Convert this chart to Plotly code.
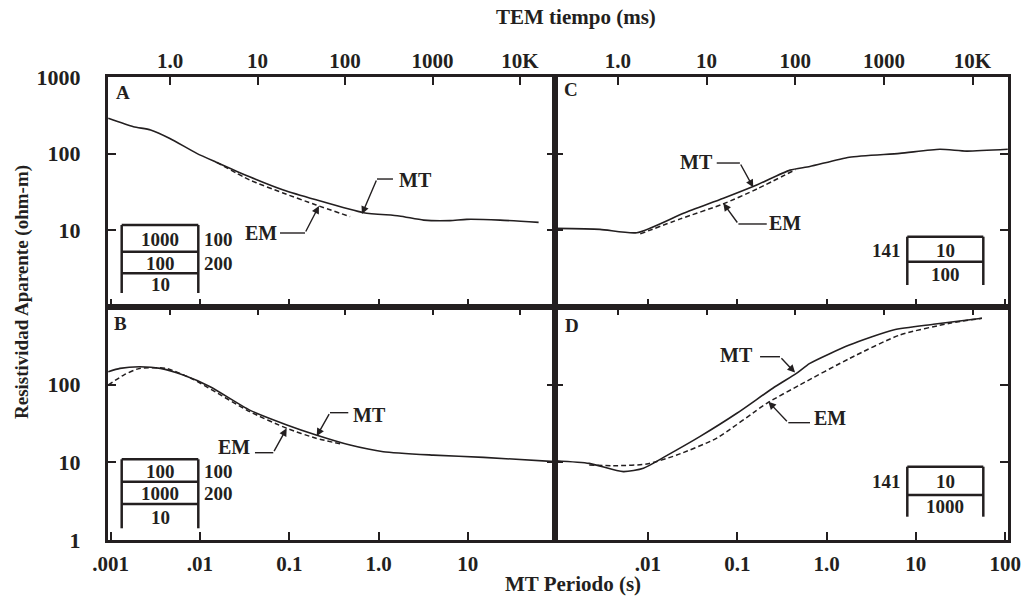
import math
import plotly.graph_objects as go

INK = "#231f20"
FONT = "Liberation Serif"
W, H = 1024, 602

# ---------------- data (period s / apparent resistivity ohm-m) ----------------
A_MT_T = [0.00094, 0.0018, 0.0028, 0.0046, 0.0092, 0.015, 0.036, 0.086, 0.2, 0.68, 1.7, 3.2, 6.3, 9.7, 23, 62]
A_MT_R = [290, 225, 204, 158, 101, 78, 50, 33.6, 25, 17, 15.4, 13.6, 13.4, 13.9, 13.6, 12.7]
A_EM_T = [0.0154, 0.036, 0.085, 0.2, 0.48]
A_EM_R = [77, 45.4, 30.7, 21.4, 15.1]

B_MT_T = [0.00094, 0.00127, 0.0021, 0.0036, 0.0065, 0.013, 0.036, 0.094, 0.2, 0.48, 1.13, 4.1, 15, 95]
B_MT_R = [147, 162, 170, 162, 133, 94, 47, 30.3, 22.5, 16.7, 13.7, 12.4, 11.6, 10.2]
B_EM_T = [0.00094, 0.0014, 0.0021, 0.0042, 0.0084, 0.036, 0.094, 0.2, 0.4]
B_EM_R = [99, 133, 162, 162, 117, 45, 27.4, 20.4, 17]

C_MT_T = [0.00092, 0.0029, 0.0075, 0.025, 0.07, 0.165, 0.39, 0.65, 1.8, 6.6, 18.6, 37, 107]
C_MT_R = [10.6, 10.3, 9.3, 16.7, 26.2, 39, 61, 68, 90, 101, 114, 108, 114]
C_EM_T = [0.0082, 0.023, 0.069, 0.166, 0.45]
C_EM_R = [9.0, 14.1, 22, 34.6, 62]

D_MT_T = [0.00092, 0.0022, 0.0053, 0.0089, 0.016, 0.038, 0.099, 0.25, 0.46, 0.65, 1.8, 5.6, 15.7, 55]
D_MT_R = [10.5, 9.7, 7.6, 8.4, 12.1, 21.4, 42.8, 90, 140, 188, 324, 506, 599, 716]
D_EM_T = [0.0022, 0.0045, 0.0097, 0.021, 0.059, 0.214, 0.5, 1.83, 6.6, 24, 55]
D_EM_R = [9.25, 9.05, 9.5, 12.4, 20.5, 57.5, 99, 219, 436, 617, 716]

# tick values / labels
MT_TICKS_L = [0.001, 0.01, 0.1, 1, 10]
MT_LABELS_L = [".001", ".01", "0.1", "1.0", "10"]
MT_TICKS_R = [0.01, 0.1, 1, 10, 100]
MT_LABELS_R = [".01", "0.1", "1.0", "10", "100"]
TEM_TICKS = [1, 10, 100, 1000, 10000]
TEM_LABELS = ["1.0", "10", "100", "1000", "10K"]
RHO_TICKS_TOP = [10, 100, 1000]
RHO_TICKS_BOT = [1, 10, 100]

# layered-earth models (resistivities, thicknesses)
A_LAYERS_RHO = [1000, 100, 10]; A_LAYERS_H = [100, 200]
B_LAYERS_RHO = [100, 1000, 10]; B_LAYERS_H = [100, 200]
C_LAYERS_RHO = [10, 100]; C_LAYERS_H = [141]
D_LAYERS_RHO = [10, 1000]; D_LAYERS_H = [141]

# ---------------- layout geometry ----------------
def fx(px):
    return px / W

def fy(py):
    return 1 - py / H

X_L = [fx(108), fx(555)]
X_R = [fx(555), fx(1008)]
Y_T = [fy(307), fy(77)]
Y_B = [fy(540), fy(307)]
MT_RANGE_L = [-3.03, 1.976]
MT_RANGE_R = [-3.041, 2.032]
TEM_RANGE = [-0.71, 4.40]

fig = go.Figure()

panels = {
    "A": ("x", "y", A_MT_T, A_MT_R, A_EM_T, A_EM_R),
    "B": ("x2", "y2", B_MT_T, B_MT_R, B_EM_T, B_EM_R),
    "C": ("x3", "y3", C_MT_T, C_MT_R, C_EM_T, C_EM_R),
    "D": ("x4", "y4", D_MT_T, D_MT_R, D_EM_T, D_EM_R),
}

for key, (xa, ya, mt_t, mt_r, em_t, em_r) in panels.items():
    fig.add_trace(go.Scatter(x=mt_t, y=mt_r, xaxis=xa, yaxis=ya, mode="lines",
                             line=dict(color=INK, width=1.6, shape="spline", smoothing=0.6),
                             hoverinfo="skip", showlegend=False))
    fig.add_trace(go.Scatter(x=em_t, y=em_r, xaxis=xa, yaxis=ya, mode="lines",
                             line=dict(color=INK, width=1.5, dash="5px,3px", shape="spline", smoothing=0.6),
                             hoverinfo="skip", showlegend=False))

# dummy traces so the TEM overlay axes are drawn
for xa, ya in [("x5", "y"), ("x6", "y2"), ("x7", "y3"), ("x8", "y4")]:
    fig.add_trace(go.Scatter(x=[10], y=[10], xaxis=xa, yaxis=ya, mode="markers",
                             marker=dict(opacity=0), hoverinfo="skip", showlegend=False))

tickfont = dict(family=FONT, size=21, color=INK, weight="bold")
base_x = dict(type="log", ticks="inside", ticklen=8, tickwidth=1.5, tickcolor=INK,
              showline=True, linewidth=3, linecolor=INK, mirror=True, automargin=False,
              showgrid=False, zeroline=False, fixedrange=True, tickfont=tickfont,
              ticklabelstandoff=3)
base_y = dict(type="log", range=[0, 3], ticks="inside", ticklen=8, tickwidth=1.5, tickcolor=INK,
              showline=True, linewidth=3, linecolor=INK, mirror="ticks", automargin=False,
              showgrid=False, zeroline=False, fixedrange=True,
              tickfont=dict(tickfont, size=22), ticklabelstandoff=20)
tem_x = dict(type="log", side="top", range=TEM_RANGE, tickvals=TEM_TICKS, ticktext=TEM_LABELS,
             ticks="inside", ticklen=8, tickwidth=1.5, tickcolor=INK, showline=False,
             automargin=False, showgrid=False, zeroline=False, fixedrange=True, tickfont=tickfont,
             ticklabelstandoff=4)

fig.update_layout(
    width=W, height=H, margin=dict(l=0, r=0, t=0, b=0, autoexpand=False),
    paper_bgcolor="white", plot_bgcolor="white",
    xaxis=dict(base_x, domain=X_L, anchor="y", range=MT_RANGE_L, tickvals=MT_TICKS_L,
               ticktext=MT_LABELS_L, showticklabels=False),
    xaxis2=dict(base_x, domain=X_L, anchor="y2", range=MT_RANGE_L, tickvals=MT_TICKS_L,
                ticktext=MT_LABELS_L, showticklabels=True),
    xaxis3=dict(base_x, domain=X_R, anchor="y3", range=MT_RANGE_R, tickvals=MT_TICKS_R,
                ticktext=MT_LABELS_R, showticklabels=False),
    xaxis4=dict(base_x, domain=X_R, anchor="y4", range=MT_RANGE_R, tickvals=MT_TICKS_R,
                ticktext=MT_LABELS_R, showticklabels=True),
    xaxis5=dict(tem_x, overlaying="x", anchor="y", showticklabels=True),
    xaxis6=dict(tem_x, overlaying="x2", anchor="y2", showticklabels=False),
    xaxis7=dict(tem_x, overlaying="x3", anchor="y3", showticklabels=True),
    xaxis8=dict(tem_x, overlaying="x4", anchor="y4", showticklabels=False),
    yaxis=dict(base_y, domain=Y_T, anchor="x", tickvals=RHO_TICKS_TOP,
               ticktext=[str(v) for v in RHO_TICKS_TOP], showticklabels=True),
    yaxis2=dict(base_y, domain=Y_B, anchor="x2", tickvals=RHO_TICKS_BOT,
                ticktext=[str(v) for v in RHO_TICKS_BOT], showticklabels=True),
    yaxis3=dict(base_y, domain=Y_T, anchor="x3", tickvals=RHO_TICKS_TOP, showticklabels=False),
    yaxis4=dict(base_y, domain=Y_B, anchor="x4", tickvals=RHO_TICKS_BOT, showticklabels=False),
)

lab_font = dict(family=FONT, size=20, color=INK, weight="bold")

# ---------------- MT / EM callouts (positions in data units) ----------------
callouts = [
    # axes, label, text(T,R), leader start(T,R), elbow(T,R), tip(T,R)
    ("x", "y", "MT", (2.62, 45.4), (1.45, 46.7), (0.96, 46.7), (0.652, 16.3)),
    ("x", "y", "EM", (0.0482, 9.23), (0.0787, 9.23), (0.15, 9.23), (0.215, 20.8)),
    ("x2", "y2", "MT", (0.80, 40.7), (0.458, 43.6), (0.286, 43.6), (0.203, 21.8)),
    ("x2", "y2", "EM", (0.024, 15.8), (0.0413, 13.3), (0.0662, 13.3), (0.0935, 27.4)),
    ("x3", "y3", "MT", (0.0354, 77.9), (0.0589, 75.5), (0.107, 75.5), (0.151, 36.4)),
    ("x3", "y3", "EM", (0.343, 12.5), (0.214, 12.1), (0.103, 12.1), (0.0698, 22.5)),
    ("x4", "y4", "MT", (0.0993, 241), (0.18, 229), (0.301, 229), (0.444, 143)),
    ("x4", "y4", "EM", (1.09, 37.2), (0.653, 32.4), (0.373, 32.4), (0.223, 60.4)),
]
L = math.log10
for xa, ya, text, tp, st, el, tip in callouts:
    fig.add_annotation(x=L(tp[0]), y=L(tp[1]), xref=xa, yref=ya, text=text, showarrow=False,
                       font=lab_font, xanchor="center", yanchor="middle")
    fig.add_trace(go.Scatter(x=[st[0], el[0]], y=[st[1], el[1]], xaxis=xa, yaxis=ya, mode="lines",
                             line=dict(color=INK, width=1.4), hoverinfo="skip", showlegend=False))
    fig.add_annotation(x=L(tip[0]), y=L(tip[1]), xref=xa, yref=ya, ax=L(el[0]), ay=L(el[1]),
                       axref=xa, ayref=ya, text="", showarrow=True, arrowhead=2, arrowsize=1.1,
                       arrowwidth=1.4, arrowcolor=INK, standoff=0, startstandoff=0)

# ---------------- panel letters ----------------
for letter, (px, py) in {"A": (123, 92), "B": (120, 323), "C": (571, 90), "D": (572, 325)}.items():
    fig.add_annotation(x=fx(px), y=fy(py), xref="paper", yref="paper", text=letter, showarrow=False,
                       font=dict(family=FONT, size=19, color=INK, weight="bold"),
                       xanchor="center", yanchor="middle")

# ---------------- layered model boxes ----------------
box_font = dict(family=FONT, size=19, color=INK, weight="bold")

def layer_box(left, right, rows, rhos, hs, h_side):
    for i, yv in enumerate(rows[:-1]):
        fig.add_shape(type="line", xref="paper", yref="paper", x0=fx(left), x1=fx(right),
                      y0=fy(yv), y1=fy(yv), line=dict(color=INK, width=2.5))
    for xv in (left, right):
        fig.add_shape(type="line", xref="paper", yref="paper", x0=fx(xv), x1=fx(xv),
                      y0=fy(rows[0]), y1=fy(rows[-1]), line=dict(color=INK, width=2.5))
    cx = (left + right) / 2
    for i, r in enumerate(rhos):
        cy = (rows[i] + rows[i + 1]) / 2 + 1
        fig.add_annotation(x=fx(cx), y=fy(cy), xref="paper", yref="paper", text=str(r),
                           showarrow=False, font=box_font, xanchor="center", yanchor="middle")
    for i, h in enumerate(hs):
        cy = (rows[i] + rows[i + 1]) / 2 + 1
        if h_side == "right":
            fig.add_annotation(x=fx(right + 4), y=fy(cy), xref="paper", yref="paper", text=str(h),
                               showarrow=False, font=box_font, xanchor="left", yanchor="middle")
        else:
            fig.add_annotation(x=fx(left - 4), y=fy(cy), xref="paper", yref="paper", text=str(h),
                               showarrow=False, font=box_font, xanchor="right", yanchor="middle")

layer_box(121.7, 198.3, [225, 251.7, 273.3, 293], A_LAYERS_RHO, A_LAYERS_H, "right")
layer_box(121.7, 198.3, [459.3, 481.7, 504, 528.3], B_LAYERS_RHO, B_LAYERS_H, "right")
layer_box(907.3, 983.3, [236.7, 261.7, 285], C_LAYERS_RHO, C_LAYERS_H, "left")
layer_box(907.3, 983.3, [466.7, 495, 516.7], D_LAYERS_RHO, D_LAYERS_H, "left")

# ---------------- titles ----------------
title_font = dict(family=FONT, size=21, color=INK, weight="bold")
fig.add_annotation(x=fx(576), y=fy(17), xref="paper", yref="paper", text="TEM tiempo (ms)",
                   showarrow=False, font=title_font, xanchor="center", yanchor="middle")
fig.add_annotation(x=fx(573), y=fy(584), xref="paper", yref="paper", text="MT Periodo (s)",
                   showarrow=False, font=title_font, xanchor="center", yanchor="middle")
fig.add_annotation(x=fx(22), y=fy(292), xref="paper", yref="paper",
                   text="Resistividad Aparente (ohm-m)", textangle=-90,
                   showarrow=False, font=dict(title_font, size=19), xanchor="center", yanchor="middle")

fig.write_html("out.html")
